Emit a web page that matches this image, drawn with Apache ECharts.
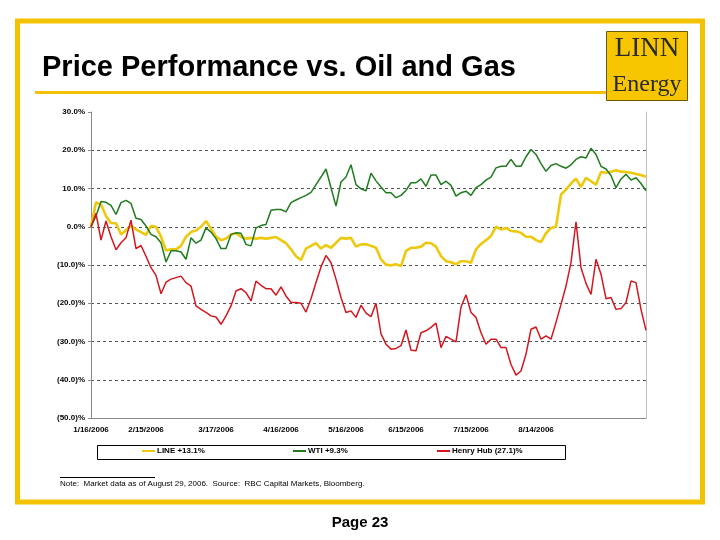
<!DOCTYPE html>
<html><head><meta charset="utf-8">
<script src="https://cdn.jsdelivr.net/npm/echarts@6/dist/echarts.min.js"></script>
<style>html,body{margin:0;padding:0;background:#fff}#c{width:720px;height:540px}</style>
</head><body><div id="c"></div><script>
// Trading-day sample index (category axis positions)
const dayIndex = Array.from({length:112}, (_, i) => String(i));
const tickLabels = ['1/16/2006','2/15/2006','3/17/2006','4/16/2006','5/16/2006','6/15/2006','7/15/2006','8/14/2006'];
const tickPos = [0, 11, 25, 38, 51, 63, 76, 89];
const yTicks = [30, 20, 10, 0, -10, -20, -30, -40, -50];

const lineRet = [0, 6.4, 5.8, 2.8, 1.0, 0.9, -2.0, -0.9, 0.3, -0.7,
  -1.4, -2.1, 0.2, 0, -2.6, -6.2, -5.9, -5.9, -5.0, -2.6,
  -1.4, -1.0, 0, 1.5, -0.5, -2.6, -3.5, -3.1, -2.0,
  -1.7, -2.6, -3.1, -2.9, -3.1, -2.9, -3.1, -2.9, -2.7, -3.5,
  -4.3, -5.9, -7.7, -8.7, -5.7, -5.0, -4.3, -5.7, -4.8, -5.5,
  -4.2, -2.9, -3.1, -2.9, -5.2, -4.6, -4.6, -5.0,
  -5.5, -8.5, -9.9, -10.1, -9.8, -10.3, -6.3, -5.5, -5.5, -5.2,
  -4.2, -4.3, -5.2, -7.7, -9.0, -9.3, -9.8, -9.0, -9.0, -9.4,
  -5.9, -4.5, -3.5, -2.4, 0, -0.7, -0.3, -1.1,
  -1.2, -1.6, -2.6, -2.6, -3.5, -4.0, -1.7, -0.3, 0, 8.4,
  9.7, 11.3, 12.6, 10.4, 12.8, 11.9, 11.0, 14.3, 14.1, 14.4,
  14.8, 14.4, 14.3, 14.1, 13.8, 13.5, 13.1];

const wtiRet = [0, 2.8, 6.6, 6.4, 5.6, 3.2, 6.3, 6.9, 6.1, 2.2,
  1.9, 0.2, -2.0, -2.6, -4.2, -9.2, -6.3, -6.3, -6.6, -8.5,
  -2.9, -4.3, -3.5, -0.3, -1.4, -3.1, -5.7, -5.7, -2.0,
  -1.6, -1.7, -4.6, -5.0, -0.3, 0.3, 0.6, 4.3, 4.5, 4.5,
  3.9, 6.3, 7.0, 7.6, 8.2, 9.0, 11.0, 13.0, 15.1, 10.2,
  5.4, 11.7, 13.0, 16.2, 11.0, 9.9, 9.4, 14.0,
  12.0, 10.4, 8.9, 8.9, 7.6, 8.2, 9.5, 11.5, 11.5, 12.5,
  10.6, 13.5, 13.5, 11.0, 11.9, 10.8, 8.0, 8.9, 9.3, 8.2,
  10.2, 11.0, 12.2, 13.0, 15.4, 15.8, 15.8, 17.6,
  15.8, 15.8, 18.3, 20.2, 18.9, 16.5, 14.5, 16.0, 16.5, 15.8,
  15.3, 16.2, 17.6, 18.3, 18.0, 20.5, 18.9, 15.8, 15.1, 13.4,
  10.2, 12.5, 13.7, 12.2, 12.8, 11.3, 9.4];

const hhRet = [0, 3.5, -3.5, 1.5, -2.6, -6.0, -4.2, -2.9, 1.7, -5.7,
  -4.9, -7.7, -10.7, -12.7, -17.5, -14.5, -13.7, -13.3, -12.9, -14.6,
  -15.5, -20.7, -21.6, -22.4, -23.3, -23.6, -25.5, -23.3, -20.7,
  -16.8, -16.2, -17.2, -19.4, -14.2, -15.3, -16.2, -16.2, -17.9, -15.7,
  -18.1, -19.8, -19.8, -20.0, -22.3, -18.8, -14.6, -10.5, -7.5, -9.4,
  -13.7, -18.5, -22.4, -22.0, -23.7, -20.5, -22.6, -23.5,
  -20.0, -28.0, -30.7, -32.0, -31.8, -31.1, -27.0, -32.3, -32.4, -27.7,
  -27.2, -26.3, -25.2, -31.6, -28.7, -29.4, -30.1, -21.0, -17.8, -22.4,
  -23.7, -27.7, -30.7, -29.4, -29.4, -31.6, -31.6, -36.0,
  -38.8, -37.7, -33.3, -26.8, -26.2, -29.4, -28.5, -29.4, -25.0, -20.3,
  -15.5, -9.4, 1.3, -10.7, -14.8, -17.7, -8.5, -12.4, -18.8, -18.5,
  -21.6, -21.4, -19.8, -14.2, -14.6, -21.6, -27.1];

const seriesNames = ['LINE +13.1%', 'WTI +9.3%', 'Henry Hub (27.1)%'];
const colors = ['#EEC80C', '#1E7B1E', '#D3171F'];

const FONT = '"Liberation Sans", Arial, sans-serif';
const pct = v => v < 0 ? '(' + Math.abs(v).toFixed(1) + ')%' : v.toFixed(1) + '%';

const chart = echarts.init(document.getElementById('c'), null, {renderer: 'canvas'});
const legendX = [142, 293, 437];
chart.setOption({
  animation: false,
  backgroundColor: '#fff',
  grid: [
    {left: 91, top: 112, width: 555, height: 306},
    {left: 91, top: 150.25, width: 555, height: 229.5}
  ],
  xAxis: [
    {gridIndex: 0, type: 'category', data: dayIndex, boundaryGap: false,
     axisLine: {onZero: false, lineStyle: {color: '#8a8a8a', width: 1}},
     axisTick: {show: false},
     splitLine: {show: false},
     axisLabel: {
       interval: (i) => tickPos.indexOf(i) >= 0,
       formatter: (v, i) => { const k = tickPos.indexOf(Number(v)); return k >= 0 ? tickLabels[k] : ''; },
       fontSize: 8, fontWeight: 'bold', color: '#000', fontFamily: FONT, margin: 8
     }},
    {gridIndex: 1, type: 'value', show: false}
  ],
  yAxis: [
    {gridIndex: 0, type: 'value', min: -50, max: 30, interval: 10,
     axisLine: {show: true, onZero: false, lineStyle: {color: '#8a8a8a'}},
     axisTick: {show: true, length: 3, lineStyle: {color: '#8a8a8a'}},
     splitLine: {show: false},
     axisLabel: {formatter: pct, fontSize: 8, fontWeight: 'bold', color: '#000', fontFamily: FONT, margin: 6}},
    {gridIndex: 0, type: 'value', position: 'right', min: -50, max: 30, interval: 10,
     axisLine: {show: true, onZero: false, lineStyle: {color: '#c0c0c0'}},
     axisTick: {show: false}, axisLabel: {show: false}, splitLine: {show: false}},
    {gridIndex: 1, type: 'value', min: -40, max: 20, interval: 10,
     axisLine: {show: false}, axisTick: {show: false}, axisLabel: {show: false},
     splitLine: {show: true, lineStyle: {color: '#555', width: 1, type: [3, 3]}}}
  ],
  legend: seriesNames.map((n, k) => ({
    data: [n], left: legendX[k], top: 447, padding: 0,
    icon: 'rect', itemWidth: 13, itemHeight: 2,
    textStyle: {fontSize: 8, fontWeight: 'bold', color: '#000', fontFamily: FONT, padding: [0, 0, 0, -3]}
  })),
  series: [
    {name: seriesNames[0], type: 'line', data: lineRet, symbol: 'none', z: 3,
     lineStyle: {color: colors[0], width: 2.6}, itemStyle: {color: colors[0]}},
    {name: seriesNames[1], type: 'line', data: wtiRet, symbol: 'none', z: 4,
     lineStyle: {color: colors[1], width: 1.5}, itemStyle: {color: colors[1]}},
    {name: seriesNames[2], type: 'line', data: hhRet, symbol: 'none', z: 5,
     lineStyle: {color: colors[2], width: 1.5}, itemStyle: {color: colors[2]}}
  ],
  graphic: [
    {type: 'rect', shape: {x: 17.5, y: 21, width: 685, height: 481}, style: {fill: 'none', stroke: '#F4C300', lineWidth: 5}, silent: true},
    {type: 'text', left: 42, top: 53, style: {text: 'Price Performance vs. Oil and Gas', font: 'bold 29px ' + FONT, fill: '#000'}},
    {type: 'rect', shape: {x: 35, y: 91, width: 571, height: 3}, style: {fill: '#F2C200'}},
    {type: 'rect', shape: {x: 606.5, y: 31.5, width: 81, height: 69}, style: {fill: '#F7C600', stroke: '#6e5b00', lineWidth: 1}},
    {type: 'text', x: 647, y: 49, style: {text: 'LINN', font: '27px "Liberation Serif", "DejaVu Serif", serif', fill: '#2a2a2a', align: 'center', verticalAlign: 'middle'}},
    {type: 'text', x: 647, y: 85, style: {text: 'Energy', font: '24px "Liberation Serif", "DejaVu Serif", serif', fill: '#2a2a2a', align: 'center', verticalAlign: 'middle'}},
    {type: 'rect', shape: {x: 97.5, y: 445.5, width: 468, height: 14}, style: {fill: 'none', stroke: '#000', lineWidth: 1}},
    {type: 'line', shape: {x1: 60, y1: 477.5, x2: 155, y2: 477.5}, style: {stroke: '#000', lineWidth: 1}},
    {type: 'text', x: 60, y: 484, style: {text: 'Note:  Market data as of August 29, 2006.  Source:  RBC Capital Markets, Bloomberg.', font: '8px ' + FONT, fill: '#000', verticalAlign: 'middle'}},
    {type: 'text', x: 360, y: 523, style: {text: 'Page 23', font: 'bold 15px ' + FONT, fill: '#000', align: 'center', verticalAlign: 'middle'}}
  ]
});
</script></body></html>
